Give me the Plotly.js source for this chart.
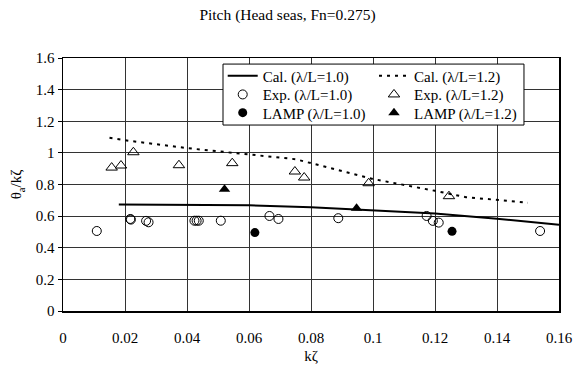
<!DOCTYPE html>
<html><head><meta charset="utf-8">
<script src="https://cdn.plot.ly/plotly-3.0.1.min.js"></script>
<style>body{margin:0;background:#fff}</style>
</head><body>
<div id="chart" style="width:575px;height:374px"></div>
<script>
const cal10X = [0.018, 0.04, 0.06, 0.08, 0.10, 0.12, 0.14, 0.16];
const cal10Y = [0.673, 0.672, 0.669, 0.656, 0.638, 0.616, 0.584, 0.546];
const cal12X = [0.015, 0.02, 0.04, 0.057, 0.075, 0.08, 0.10, 0.12, 0.13, 0.15];
const cal12Y = [1.095, 1.08, 1.03, 0.998, 0.96, 0.935, 0.835, 0.76, 0.72, 0.685];
const exp10X = [0.0109, 0.0217, 0.0219, 0.0268, 0.0276, 0.0424, 0.0431, 0.0438, 0.0509, 0.0666, 0.0695, 0.0888, 0.1173, 0.1193, 0.1212, 0.1539];
const exp10Y = [0.506, 0.582, 0.578, 0.570, 0.561, 0.571, 0.571, 0.571, 0.571, 0.601, 0.582, 0.587, 0.601, 0.570, 0.559, 0.506];
const exp12X = [0.0157, 0.0187, 0.0227, 0.0374, 0.0546, 0.0748, 0.0778, 0.0986, 0.1245];
const exp12Y = [0.907, 0.920, 1.004, 0.922, 0.935, 0.882, 0.844, 0.808, 0.726];
const lamp10X = [0.0619, 0.1255];
const lamp10Y = [0.496, 0.504];
const lamp12X = [0.0521, 0.0947];
const lamp12Y = [0.770, 0.650];

const FAM = 'Liberation Serif';
const f = (size) => ({family: FAM, size: size, color: '#000'});
const traces = [
  {x: cal10X, y: cal10Y, name: 'Cal. (λ/L=1.0)', legend: 'legend', mode: 'lines', line: {color: '#000', width: 2}},
  {x: cal12X, y: cal12Y, name: 'Cal. (λ/L=1.2)', legend: 'legend2', mode: 'lines', line: {color: '#000', width: 2, dash: '3px,5px'}},
  {x: exp10X, y: exp10Y, name: 'Exp. (λ/L=1.0)', legend: 'legend3', mode: 'markers', marker: {symbol: 'circle-open', size: 9, color: '#000', line: {width: 1}}},
  {x: exp12X, y: exp12Y, name: 'Exp. (λ/L=1.2)', legend: 'legend4', mode: 'markers', marker: {symbol: 'triangle-up-open', size: 10, color: '#000', line: {width: 1}}},
  {x: lamp10X, y: lamp10Y, name: 'LAMP (λ/L=1.0)', legend: 'legend5', mode: 'markers', marker: {symbol: 'circle', size: 9, color: '#000'}},
  {x: lamp12X, y: lamp12Y, name: 'LAMP (λ/L=1.2)', legend: 'legend6', mode: 'markers', marker: {symbol: 'triangle-up', size: 10, color: '#000'}}
];
const leg = (x, y) => ({x: x, y: y, xanchor: 'left', yanchor: 'middle', orientation: 'v', bgcolor: 'rgba(0,0,0,0)',
  borderwidth: 0, font: f(15), itemwidth: 30});
const col1 = 0.322, col2 = 0.627;
const row1 = 0.929, row2 = 0.855, row3 = 0.783;
const layout = {
  width: 575, height: 374,
  margin: {l: 63, r: 16, t: 58, b: 63},
  paper_bgcolor: '#fff', plot_bgcolor: '#fff',
  font: f(15),
  title: {text: 'Pitch (Head seas, Fn=0.275)', font: f(15.5), x: 0.5, xanchor: 'center', y: 0.962, yanchor: 'middle'},
  showlegend: true,
  legend: leg(col1, row1), legend2: leg(col2, row1),
  legend3: leg(col1, row2), legend4: leg(col2, row2),
  legend5: leg(col1, row3), legend6: leg(col2, row3),
  shapes: [{type: 'rect', xref: 'paper', yref: 'paper', x0: 0.3226, x1: 0.9294, y0: 0.735, y1: 0.976,
    fillcolor: '#fff', line: {color: '#000', width: 1}, layer: 'above'}],
  annotations: [{text: 'θ<sub>a</sub>/kζ', xref: 'paper', yref: 'paper', x: -0.093, y: 0.5,
    xanchor: 'center', yanchor: 'middle', textangle: -90, showarrow: false, font: f(15)}],
  xaxis: {range: [0, 0.16], dtick: 0.02, tick0: 0, showgrid: true, gridcolor: '#333', gridwidth: 1,
    showline: true, linecolor: '#000', linewidth: 1.5, mirror: true, zeroline: false,
    ticks: '', ticklabelstandoff: 12, tickfont: f(15),
    title: {text: 'kζ', font: f(15), standoff: 6}},
  yaxis: {range: [0, 1.6], dtick: 0.2, tick0: 0, showgrid: true, gridcolor: '#333', gridwidth: 1,
    showline: true, linecolor: '#000', linewidth: 1.5, mirror: true, zeroline: false,
    ticks: 'outside', ticklen: 4, tickcolor: '#000', tickfont: f(15)}
};
Plotly.newPlot('chart', traces, layout, {displayModeBar: false, staticPlot: true});
</script>
</body></html>
